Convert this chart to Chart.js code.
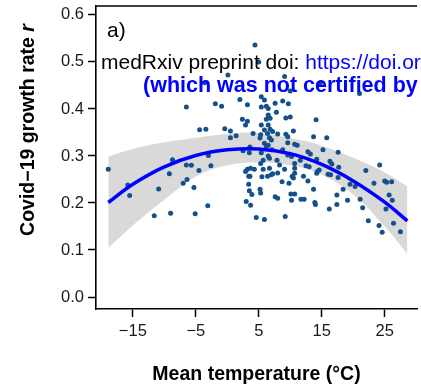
<!DOCTYPE html>
<html>
<head>
<meta charset="utf-8">
<script src="https://cdn.jsdelivr.net/npm/chart.js@4/dist/chart.umd.min.js"></script>
<style>
  html, body { margin: 0; padding: 0; background: #fff; overflow: hidden; }
  #wrap { width: 421px; height: 391px; }
</style>
</head>
<body>
<div id="wrap"><canvas id="tempChart" width="421" height="391"></canvas></div>
<script>
// Panel a) - Covid-19 growth rate vs mean temperature (values read off the figure)

// 1. Data
const tempC = [
  -18.9, -15.8, -15.5, -10.9, -11.6, -9.0, -8.7, -9.2, -7.0, -6.4,
  -6.5, -5.7, -5.3, -4.5, -5.1, -3.1, -2.6, -3.0, -4.4, -3.4,
  -0.4, -6.5, -1.9, -0.9, 2.0, 3.2, 0.5, 0.5, 1.4, 2.4,
  2.9, 3.2, 4.1, 2.5, 3.5, 2.9, 3.2, 3.7, 4.3, 3.4,
  3.6, 3.4, 3.5, 3.9, 3.0, 3.7, 4.6, -3.6, 0.1, 4.4,
  5.0, 9.1, 10.0, 14.8, 21.0, 8.8, 9.7, 5.4, 5.9, 6.2,
  6.5, 5.4, 7.6, 7.8, 6.5, 6.8, 6.2, 9.3, 10.0, 5.4,
  6.5, 6.8, 5.9, 5.3, 6.4, 7.2, 8.0, 9.3, 10.5, 5.2,
  6.7, 9.6, 14.1, 7.0, 9.6, 10.7, 5.9, 6.2, 6.5, 7.1,
  3.6, 8.8, 9.6, 10.2, 5.4, 6.5, 6.7, 5.7, 5.3, 7.9,
  8.3, 9.1, 5.7, 6.7, 7.2, 8.0, 5.5, 6.4, 7.0, 5.2,
  5.3, 8.7, 9.8, 10.7, 10.7, 7.6, 8.0, 10.2, 10.1, 5.9,
  9.2, 13.7, 15.8, 11.1, 12.8, 13.2, 15.2, 17.6, 11.6, 10.7,
  12.5, 13.0, 14.2, 16.3, 16.6, 17.7, 14.3, 14.6, 14.2, 16.0,
  16.4, 17.6, 10.3, 10.5, 12.1, 12.8, 19.5, 20.3, 13.7, 10.7,
  11.7, 12.2, 13.9, 14.0, 17.4, 18.4, 19.1, 17.4, 16.2, 24.2,
  22.0, 23.3, 25.0, 25.3, 26.1, 25.7, 26.2, 21.1, 21.5, 25.2,
  22.4, 24.1, 24.6, 26.4, 27.5
];
const growthR = [
  0.272, 0.238, 0.216, 0.230, 0.173, 0.178, 0.292, 0.262, 0.242, 0.250,
  0.281, 0.280, 0.233, 0.269, 0.177, 0.194, 0.279, 0.301, 0.356, 0.357,
  0.358, 0.404, 0.411, 0.406, 0.420, 0.409, 0.353, 0.339, 0.343, 0.378,
  0.366, 0.374, 0.348, 0.311, 0.307, 0.267, 0.272, 0.274, 0.272, 0.257,
  0.257, 0.240, 0.226, 0.218, 0.203, 0.195, 0.169, 0.456, 0.472, 0.536,
  0.500, 0.469, 0.438, 0.456, 0.433, 0.417, 0.411, 0.426, 0.419, 0.406,
  0.401, 0.404, 0.412, 0.393, 0.387, 0.380, 0.378, 0.381, 0.383, 0.366,
  0.366, 0.357, 0.355, 0.345, 0.348, 0.352, 0.347, 0.346, 0.353, 0.338,
  0.339, 0.341, 0.377, 0.334, 0.328, 0.325, 0.327, 0.320, 0.323, 0.313,
  0.319, 0.313, 0.302, 0.299, 0.307, 0.300, 0.295, 0.291, 0.284, 0.291,
  0.281, 0.272, 0.272, 0.274, 0.262, 0.264, 0.256, 0.257, 0.260, 0.229,
  0.221, 0.245, 0.242, 0.263, 0.284, 0.213, 0.210, 0.206, 0.219, 0.165,
  0.171, 0.341, 0.339, 0.323, 0.309, 0.304, 0.313, 0.308, 0.291, 0.274,
  0.279, 0.277, 0.293, 0.289, 0.283, 0.276, 0.267, 0.270, 0.263, 0.261,
  0.260, 0.254, 0.257, 0.253, 0.257, 0.247, 0.240, 0.235, 0.229, 0.219,
  0.208, 0.208, 0.201, 0.197, 0.217, 0.229, 0.206, 0.197, 0.187, 0.281,
  0.269, 0.242, 0.247, 0.244, 0.245, 0.217, 0.206, 0.208, 0.190, 0.187,
  0.162, 0.152, 0.138, 0.157, 0.139
];

// fitted curve and its confidence band, read at a few temperatures
const fitTemp   = [-18.9, -15, -10, -5, 0, 5, 10, 15, 20, 25, 28.6];
const fitRate   = [0.201, 0.240, 0.277, 0.301, 0.313, 0.315, 0.305, 0.282, 0.247, 0.202, 0.162];
const bandUpper = [0.299, 0.315, 0.329, 0.339, 0.347, 0.349, 0.338, 0.322, 0.296, 0.265, 0.235];
const bandLower = [0.104, 0.152, 0.207, 0.256, 0.280, 0.286, 0.280, 0.260, 0.218, 0.150, 0.092];

const xTicks = [-15, -5, 5, 15, 25];
const yTicks = [0, 0.1, 0.2, 0.3, 0.4, 0.5, 0.6];

const FONT = '"Liberation Sans", Arial, Helvetica, sans-serif';

function toPoints(xs, ys) {
    return xs.map((x, i) => ({ x: x, y: ys[i] }));
}

// 2. Extra drawing: top frame, panel letter, preprint stamp, y title
const overlayPlugin = {
    id: 'overlay',
    afterDraw(chart) {
        const ctx = chart.ctx;
        const area = chart.chartArea;
        ctx.save();

        ctx.strokeStyle = '#000';
        ctx.lineWidth = 1.6;
        ctx.beginPath();
        ctx.moveTo(area.left, area.top);
        ctx.lineTo(area.right, area.top);
        ctx.stroke();

        ctx.textBaseline = 'alphabetic';
        ctx.textAlign = 'left';
        ctx.fillStyle = '#000';
        ctx.font = '21px ' + FONT;
        ctx.fillText('a)', area.left + 11, area.top + 31);

        // medRxiv stamp
        const stamp = 'medRxiv preprint doi: ';
        ctx.fillText(stamp, 101, 69);
        const w = ctx.measureText(stamp).width;
        ctx.fillStyle = '#0000ff';
        ctx.fillText('https://doi.org/10.1101/2020', 101 + w, 69);
        ctx.font = 'bold 21.5px ' + FONT;
        ctx.fillText('(which was not certified by peer review)', 143, 92);

        // y title with italic r
        ctx.fillStyle = '#000';
        ctx.translate(34, 130);
        ctx.rotate(-Math.PI / 2);
        const main = 'Covid\u221219 growth rate ';
        ctx.font = 'bold 19.5px ' + FONT;
        const mw = ctx.measureText(main).width;
        ctx.font = 'italic bold 19.5px ' + FONT;
        const rw = ctx.measureText('r').width;
        const start = -(mw + rw) / 2;
        ctx.font = 'bold 19.5px ' + FONT;
        ctx.fillText(main, start, 0);
        ctx.font = 'italic bold 19.5px ' + FONT;
        ctx.fillText('r', start + mw, 0);

        ctx.restore();
    }
};

// 3. Chart
const ctx = document.getElementById('tempChart').getContext('2d');
new Chart(ctx, {
    type: 'scatter',
    data: {
        datasets: [
            {
                type: 'line',
                label: 'fit',
                data: toPoints(fitTemp, fitRate),
                borderColor: '#0000ff',
                borderWidth: 3.5,
                pointRadius: 0,
                tension: 0.4,
                fill: false,
                order: 0
            },
            {
                type: 'scatter',
                label: 'countries',
                data: toPoints(tempC, growthR),
                backgroundColor: '#13518d',
                borderColor: '#13518d',
                borderWidth: 0,
                pointRadius: 2.5,
                order: 1
            },
            {
                type: 'line',
                label: 'ci upper',
                data: toPoints(fitTemp, bandUpper),
                borderColor: 'rgba(0,0,0,0)',
                backgroundColor: '#d9d9d9',
                pointRadius: 0,
                tension: 0.4,
                fill: '+1',
                order: 2
            },
            {
                type: 'line',
                label: 'ci lower',
                data: toPoints(fitTemp, bandLower),
                borderColor: 'rgba(0,0,0,0)',
                pointRadius: 0,
                tension: 0.4,
                fill: false,
                order: 3
            }
        ]
    },
    options: {
        responsive: false,
        animation: false,
        layout: { padding: { top: 6, right: 0, bottom: 0, left: 0 } },
        plugins: {
            legend: { display: false },
            tooltip: { enabled: false }
        },
        scales: {
            x: {
                type: 'linear',
                position: 'bottom',
                min: -20.85,
                max: 30.13,
                afterBuildTicks: s => { s.ticks = xTicks.map(v => ({ value: v })); },
                afterFit: s => { s.height = 82; s.paddingLeft = 0; s.paddingRight = 0; },
                grid: { drawOnChartArea: false, drawTicks: true, tickLength: 8, tickColor: '#000', tickWidth: 1.5 },
                border: { color: '#000', width: 1.6 },
                ticks: {
                    padding: 5,
                    color: '#1a1a1a',
                    font: { family: FONT, size: 16.5 },
                    callback: v => v < 0 ? '\u2212' + Math.abs(v) : String(v)
                },
                title: {
                    display: true,
                    text: 'Mean temperature (°C)',
                    color: '#000',
                    font: { family: FONT, size: 19.5, weight: 'bold' },
                    padding: { top: 0, bottom: 4.6 }
                }
            },
            y: {
                min: -0.0255,
                max: 0.619,
                afterBuildTicks: s => { s.ticks = yTicks.map(v => ({ value: v })); },
                afterFit: s => { s.width = 96; s.paddingTop = 0; s.paddingBottom = 0; },
                grid: { drawOnChartArea: false, drawTicks: true, tickLength: 8, tickColor: '#000', tickWidth: 1.5 },
                border: { color: '#000', width: 1.6 },
                ticks: {
                    padding: 4,
                    color: '#1a1a1a',
                    font: { family: FONT, size: 16.5 },
                    callback: v => v.toFixed(1)
                }
            }
        }
    },
    plugins: [overlayPlugin]
});
</script>
</body>
</html>
